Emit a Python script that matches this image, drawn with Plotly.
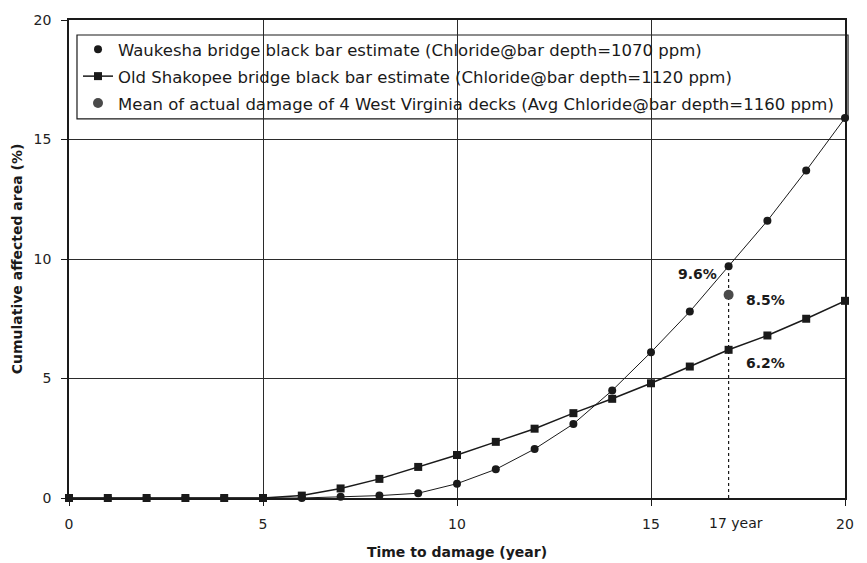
import plotly.graph_objects as go

years = list(range(0, 21))
waukesha = [0, 0, 0, 0, 0, 0, 0.0, 0.05, 0.1, 0.2, 0.6, 1.2, 2.05, 3.1, 4.5, 6.1, 7.8, 9.7, 11.6, 13.7, 15.9]
shakopee = [0, 0, 0, 0, 0, 0, 0.1, 0.4, 0.8, 1.3, 1.8, 2.35, 2.9, 3.55, 4.15, 4.8, 5.5, 6.2, 6.8, 7.5, 8.25]
wv_year = [17]
wv_mean = [8.5]
marker_year = [17, 17]
marker_span = [0, 9.6]

names = [
    "Waukesha bridge black bar estimate (Chloride@bar depth=1070 ppm)",
    "Old Shakopee bridge black bar estimate (Chloride@bar depth=1120 ppm)",
    "Mean of actual damage of 4 West Virginia decks (Avg Chloride@bar depth=1160 ppm)",
]
tick_vals = [0, 5, 10, 15, 20]

FONT = "DejaVu Sans"
INK = "#1a1a1a"

fig = go.Figure()

# dotted reference line at 17 years
fig.add_trace(go.Scatter(x=marker_year, y=marker_span, mode="lines",
                         line=dict(color=INK, width=1.2, dash="dot"),
                         showlegend=False, hoverinfo="skip", cliponaxis=False))

# Waukesha line (not in legend) + markers
fig.add_trace(go.Scatter(x=years, y=waukesha, mode="lines",
                         line=dict(color=INK, width=1),
                         showlegend=False, cliponaxis=False))
fig.add_trace(go.Scatter(x=years, y=waukesha, mode="markers", name=names[0],
                         legendgroup="a",
                         marker=dict(symbol="circle", size=8, color=INK),
                         cliponaxis=False))

fig.add_trace(go.Scatter(x=years, y=shakopee, mode="lines+markers", name=names[1],
                         legendgroup="b",
                         line=dict(color=INK, width=1.5),
                         marker=dict(symbol="square", size=8, color=INK),
                         cliponaxis=False))

fig.add_trace(go.Scatter(x=wv_year, y=wv_mean, mode="markers", name=names[2],
                         legendgroup="c",
                         marker=dict(symbol="circle", size=10, color="#4a4a4a"),
                         cliponaxis=False))

ann_font = dict(family=FONT, size=14, color=INK)
fig.add_annotation(x=16.19, y=9.37, xref="x", yref="y", text="<b>9.6%</b>",
                   showarrow=False, font=ann_font)
fig.add_annotation(x=17.96, y=8.28, xref="x", yref="y", text="<b>8.5%</b>",
                   showarrow=False, font=ann_font)
fig.add_annotation(x=17.96, y=5.65, xref="x", yref="y", text="<b>6.2%</b>",
                   showarrow=False, font=ann_font)
fig.add_annotation(x=17.18, y=-0.052, xref="x", yref="paper", text="17 year",
                   showarrow=False, yanchor="middle",
                   font=dict(family=FONT, size=14, color=INK))

# legend box
fig.add_shape(type="rect", xref="paper", yref="paper",
              x0=0.0103, x1=1.0039, y0=0.793, y1=0.9686,
              line=dict(color=INK, width=1.2), fillcolor="white", layer="between")

axis_common = dict(
    range=[0, 20], tickvals=tick_vals, showgrid=True, gridcolor="#2b2b2b", gridwidth=1.3,
    showline=True, linecolor=INK, linewidth=1.5, mirror=True,
    ticks="outside", ticklen=6, tickcolor=INK, zeroline=False, automargin=False,
    tickfont=dict(family=FONT, size=14, color="#222"),
)

fig.update_layout(
    width=867, height=563,
    margin=dict(l=61, r=30, t=12, b=73, autoexpand=False),
    paper_bgcolor="white", plot_bgcolor="white",
    font=dict(family=FONT, size=14, color=INK),
    showlegend=True,
    legend=dict(x=0.0116, y=0.975, xanchor="left", yanchor="top",
                bgcolor="rgba(0,0,0,0)", borderwidth=0,
                font=dict(family=FONT, size=16.5, color=INK),
                traceorder="grouped", tracegroupgap=2.5),
    xaxis=dict(**axis_common, ticklabelstandoff=6,
               title=dict(text="<b>Time to damage (year)</b>", standoff=17,
                          font=dict(family=FONT, size=14, color=INK))),
    yaxis=dict(**axis_common, ticklabelstandoff=7,
               title=dict(text="<b>Cumulative affected area (%)</b>", standoff=8,
                          font=dict(family=FONT, size=14, color=INK))),
)

fig.write_html("out.html")
